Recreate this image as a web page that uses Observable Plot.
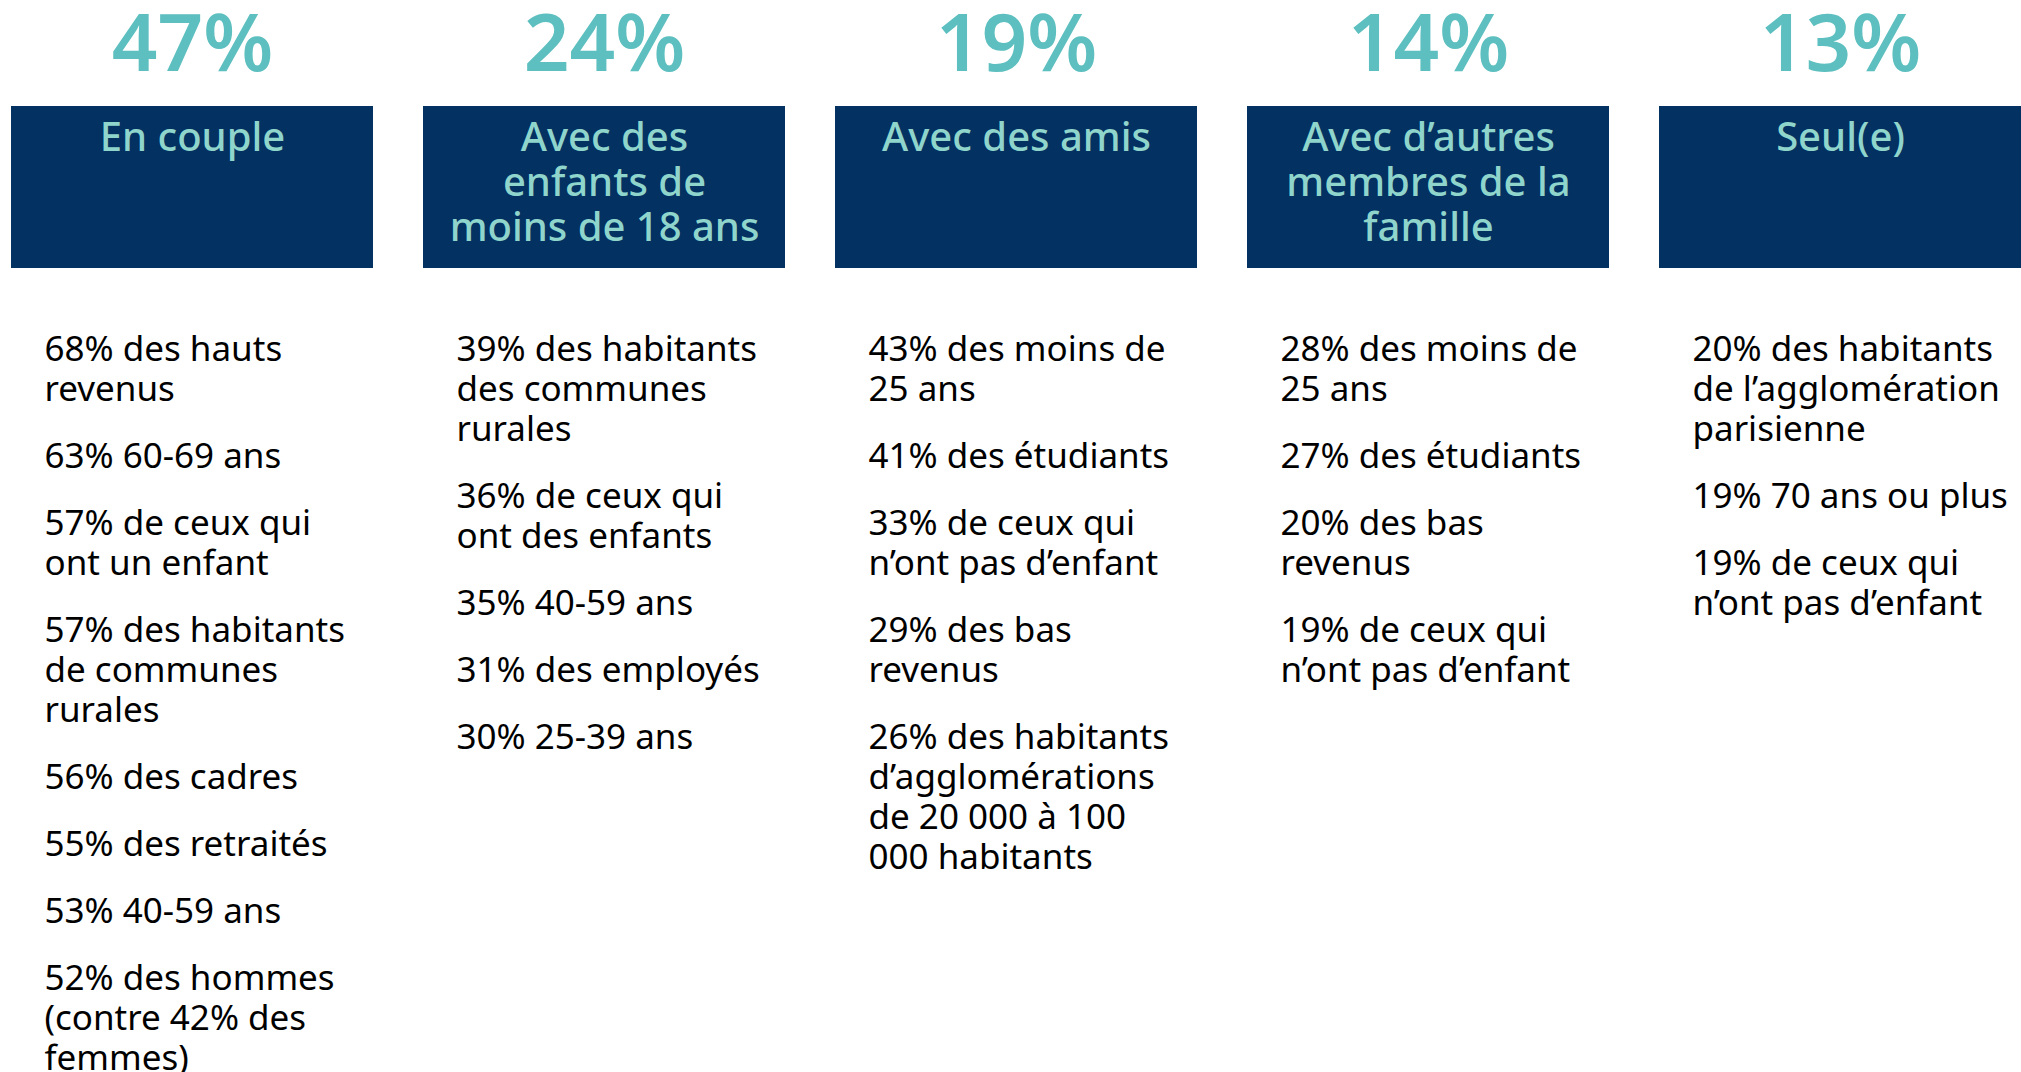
<!DOCTYPE html>
<html><head><meta charset="utf-8">
<script src="https://cdn.jsdelivr.net/npm/d3@7"></script>
<script src="https://cdn.jsdelivr.net/npm/@observablehq/plot@0.6"></script>
<style>html,body{margin:0;padding:0;background:#fff;overflow:hidden;}</style>
</head><body><div id="chart"></div>
<script>
// ---- DATA ----
const categories = ["En couple", "Avec des enfants", "Avec des amis", "Avec d’autres membres", "Seul(e)"];
const titles = ["En couple", "Avec des\nenfants de\nmoins de 18 ans", "Avec des amis", "Avec d’autres\nmembres de la\nfamille", "Seul(e)"];
const shares = [47, 24, 19, 14, 13];

const coupleValues = [68, 63, 57, 57, 56, 55, 53, 52];
const coupleLabels = ["des hauts\nrevenus", "60-69 ans", "de ceux qui\nont un enfant", "des habitants\nde communes\nrurales", "des cadres", "des retraités", "40-59 ans", "des hommes\n(contre 42% des\nfemmes)"];

const enfantsValues = [39, 36, 35, 31, 30];
const enfantsLabels = ["des habitants\ndes communes\nrurales", "de ceux qui\nont des enfants", "40-59 ans", "des employés", "25-39 ans"];

const amisValues = [43, 41, 33, 29, 26];
const amisLabels = ["des moins de\n25 ans", "des étudiants", "de ceux qui\nn’ont pas d’enfant", "des bas\nrevenus", "des habitants\nd’agglomérations\nde 20 000 à 100\n000 habitants"];

const familleValues = [28, 27, 20, 19];
const familleLabels = ["des moins de\n25 ans", "des étudiants", "des bas\nrevenus", "de ceux qui\nn’ont pas d’enfant"];

const seulValues = [20, 19, 19];
const seulLabels = ["des habitants\nde l’agglomération\nparisienne", "70 ans ou plus", "de ceux qui\nn’ont pas d’enfant"];

// ---- BUILD TABLES ----
const columns = categories.map((c, i) => ({category: c, title: titles[i], share: shares[i]}));
const detailSets = [
  [coupleValues, coupleLabels],
  [enfantsValues, enfantsLabels],
  [amisValues, amisLabels],
  [familleValues, familleLabels],
  [seulValues, seulLabels]
];
const rows = [];
detailSets.forEach(([vals, labels], ci) => {
  let line = 0;
  vals.forEach((v, ii) => {
    `${v}% ${labels[ii]}`.split("\n").forEach(t => {
      rows.push({category: categories[ci], text: t, line, item: ii});
      line++;
    });
  });
});

// ---- LAYOUT ----
const W = 2021, H = 1072;
const FONT = "'Noto Sans', sans-serif";
const navy = "#023162", teal = "#5dbfbf", lightTeal = "#8fd5cc";
const boxTop = 106, boxBottom = 268;
const step = 412, bandW = 362;
const shareBaseline = 70, shareSize = 80;
const titleSize = 40, titleLH = 1.1375, titleBaseline = 150;
const bodySize = 35, bodyTop = 360, bodyLine = 40, itemGap = 27, indent = 33;

const chart = Plot.plot({
  width: W, height: H,
  marginLeft: 11, marginRight: 0, marginTop: 0, marginBottom: 0,
  style: {fontFamily: FONT, background: "white"},
  x: {type: "band", domain: categories, paddingInner: (step - bandW) / step, paddingOuter: 0, align: 0, axis: null},
  y: {type: "linear", domain: [0, H], range: [0, H], axis: null},
  marks: [
    Plot.barY(columns, {x: "category", y1: boxTop, y2: boxBottom, fill: navy}),
    Plot.text(columns, {
      x: "category", y: shareBaseline, text: d => `${d.share}%`,
      lineAnchor: "bottom", fontSize: shareSize, fontWeight: 600, fill: teal
    }),
    Plot.text(columns, {
      x: "category", y: titleBaseline - 0.71 * titleLH * titleSize, text: "title",
      lineAnchor: "top", lineHeight: titleLH, fontSize: titleSize, fontWeight: 500, fill: lightTeal
    }),
    Plot.text(rows, {
      x: "category", y: d => bodyTop + d.line * bodyLine + d.item * itemGap, text: "text",
      lineAnchor: "bottom", textAnchor: "start", dx: indent - bandW / 2,
      fontSize: bodySize, fill: "#000"
    })
  ]
});
document.getElementById("chart").appendChild(chart);
</script>
</body></html>
